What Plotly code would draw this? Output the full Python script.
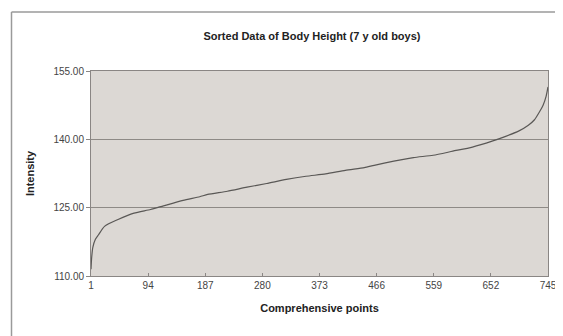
import plotly.graph_objects as go

# Point index -> sorted body height
point_index = [1, 2, 4, 8, 13, 23, 45, 71, 98, 119, 151, 178, 191, 223, 255, 287,
               319, 351, 383, 415, 446, 462, 494, 526, 558, 590, 622, 654, 675,
               697, 713, 723, 731, 737, 742, 745]
height_values = [111.5, 113.9, 116.3, 118.0, 119.0, 120.9, 122.4, 123.8, 124.6, 125.4,
                 126.6, 127.4, 127.9, 128.6, 129.5, 130.3, 131.2, 131.9, 132.4, 133.2,
                 133.8, 134.3, 135.2, 136.0, 136.5, 137.4, 138.3, 139.6, 140.6, 141.8,
                 143.1, 144.3, 146.0, 147.5, 149.5, 151.5]

x_ticks = [1, 94, 187, 280, 373, 466, 559, 652, 745]
y_ticks = [110, 125, 140, 155]
y_tick_labels = ["110.00", "125.00", "140.00", "155.00"]

FONT = "Liberation Sans, Arial, sans-serif"

# page body has an 8px margin, so figure coords = window coords - 8
W, H = 555, 328
L, T, R, B = 83, 63, 15, 60
PW = W - L - R
PH = H - T - B

fig = go.Figure()
fig.add_trace(go.Scatter(
    x=point_index, y=height_values, mode="lines",
    line=dict(color="#5a5856", width=1.2, shape="spline", smoothing=0.6),
    showlegend=False, hoverinfo="skip",
))

fig.update_layout(
    width=W, height=H,
    margin=dict(l=L, r=R, t=T, b=B, autoexpand=False),
    paper_bgcolor="white",
    plot_bgcolor="#dcd8d4",
    font=dict(family=FONT, size=10, color="#444"),
    title=dict(text="<b>Sorted Data of Body Height (7 y old boys)</b>",
               x=304 / W, xanchor="center", y=1 - 28 / H, yanchor="middle",
               font=dict(family=FONT, size=11, color="#222")),
    xaxis=dict(
        range=[1, 745], tickmode="array", tickvals=x_ticks,
        ticktext=[str(v) for v in x_ticks],
        ticklabeloverflow="allow", automargin=False,
        showgrid=False, zeroline=False,
        showline=True, linecolor="#8a8684", linewidth=1, mirror=True,
        ticks="inside", ticklen=3, tickcolor="#8a8684",
        tickfont=dict(family=FONT, size=10, color="#444"),
        title=dict(text="<b>Comprehensive points</b>", standoff=14,
                   font=dict(family=FONT, size=11, color="#222")),
    ),
    yaxis=dict(
        range=[110, 155], tickmode="array", tickvals=y_ticks, ticktext=y_tick_labels,
        automargin=False,
        showgrid=True, gridcolor="#8e8a86", gridwidth=1, zeroline=False,
        showline=True, linecolor="#8a8684", linewidth=1, mirror=True,
        ticks="outside", ticklen=4, tickcolor="#8a8684",
        tickfont=dict(family=FONT, size=10, color="#444"),
        title=dict(text="<b>Intensity</b>", standoff=16,
                   font=dict(family=FONT, size=11, color="#222")),
    ),
    shapes=[
        dict(type="line", xref="paper", yref="paper",
             x0=(3.5 - L) / PW, x1=(W - L) / PW + 0.01,
             y0=1 + (T - 4) / PH, y1=1 + (T - 4) / PH,
             line=dict(color="#9a9a9a", width=1.5)),
        dict(type="line", xref="paper", yref="paper",
             x0=(3.5 - L) / PW, x1=(3.5 - L) / PW,
             y0=1 + (T - 4) / PH, y1=-B / PH - 0.01,
             line=dict(color="#9a9a9a", width=1.5)),
    ],
)

fig.write_html("out.html")
